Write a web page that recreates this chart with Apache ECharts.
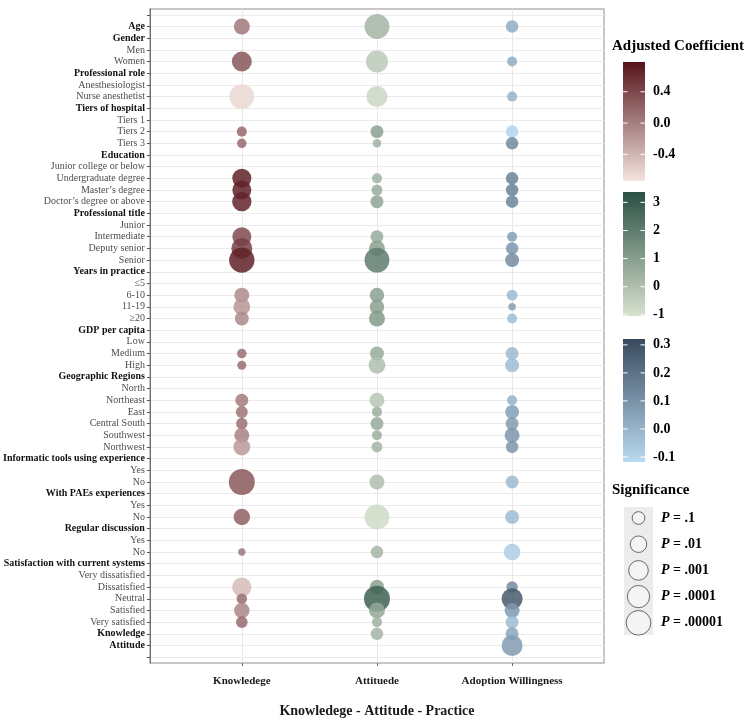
<!DOCTYPE html>
<html>
<head>
<meta charset="utf-8">
<script src="https://cdn.jsdelivr.net/npm/echarts@6/dist/echarts.min.js"></script>
<style>
html, body { margin: 0; padding: 0; background: #fff; }
#main { width: 755px; height: 723px; }
</style>
</head>
<body>
<div id="main"></div>
<script>
// rows of the y axis (blank first / last rows give the ggplot padding)
var yLabels = ['',
  'Age', 'Gender', 'Men', 'Women',
  'Professional role', 'Anesthesiologist', 'Nurse anesthetist',
  'Tiers of hospital', 'Tiers 1', 'Tiers 2', 'Tiers 3',
  'Education', 'Junior college or below', 'Undergraduate degree', 'Master’s degree', 'Doctor’s degree or above',
  'Professional title', 'Junior', 'Intermediate', 'Deputy senior', 'Senior',
  'Years in practice', '≤5', '6-10', '11-19', '≥20',
  'GDP per capita', 'Low', 'Medium', 'High',
  'Geographic Regions', 'North', 'Northeast', 'East', 'Central South', 'Southwest', 'Northwest',
  'Informatic tools using experience', 'Yes', 'No',
  'With PAEs experiences', 'Yes', 'No',
  'Regular discussion', 'Yes', 'No',
  'Satisfaction with current systems', 'Very dissatisfied', 'Dissatisfied', 'Neutral', 'Satisfied', 'Very satisfied',
  'Knowledge', 'Attitude', ''];

var boldLabels = ['Age', 'Gender', 'Professional role', 'Tiers of hospital', 'Education',
  'Professional title', 'Years in practice', 'GDP per capita', 'Geographic Regions',
  'Informatic tools using experience', 'With PAEs experiences', 'Regular discussion',
  'Satisfaction with current systems', 'Knowledge', 'Attitude'];

var columns = ['Knowledege', 'Attituede', 'Adoption Willingness'];

// adjusted coefficients, one per row (null = no bubble)
var knowledgeCoef = [null,
  0.05, null, null, 0.30,
  null, null, -0.65,
  null, null, 0.15, 0.15,
  null, null, 0.68, 0.68, 0.66,
  null, null, 0.38, 0.45, 0.68,
  null, null, -0.10, -0.18, -0.08,
  null, null, 0.12, 0.12,
  null, null, 0.02, 0.08, 0.10, -0.02, -0.20,
  null, null, 0.28,
  null, null, 0.22,
  null, null, 0.05,
  null, null, -0.45, 0.12, -0.05, 0.15,
  null, null, null];

var attitudeCoef = [null,
  0.3, null, null, -0.3,
  null, null, -0.7,
  null, null, 0.9, 0.4,
  null, null, 0.4, 0.6, 0.8,
  null, null, 0.6, 0.9, 2.0,
  null, null, 0.9, 0.9, 1.1,
  null, null, 0.6, 0.0,
  null, null, -0.2, 0.5, 0.6, 0.5, 0.3,
  null, null, 0.0,
  null, null, -0.8,
  null, null, 0.3,
  null, null, 0.9, 2.8, 0.7, 0.4,
  0.3, null, null];

var adoptionCoef = [null,
  0.02, null, null, 0.02,
  null, null, 0.00,
  null, null, -0.10, 0.13,
  null, null, 0.15, 0.15, 0.14,
  null, null, 0.06, 0.09, 0.12,
  null, null, -0.02, 0.06, -0.03,
  null, null, -0.02, -0.03,
  null, null, 0.00, 0.06, 0.07, 0.09, 0.09,
  null, null, -0.02,
  null, null, -0.03,
  null, null, -0.08,
  null, null, 0.12, 0.27, 0.08, -0.03,
  0.04, 0.07, null];

// significance as -log10(P), one per row
var knowledgeSig = [null,
  1.85, null, null, 3.1,
  null, null, 5.1,
  null, null, 0.46, 0.37,
  null, null, 2.8, 2.8, 2.9,
  null, null, 2.8, 3.5, 5.3,
  null, null, 1.57, 2.1, 1.3,
  null, null, 0.37, 0.29,
  null, null, 1.07, 0.85, 0.74, 1.57, 2.1,
  null, null, 5.6,
  null, null, 2.0,
  null, null, 0.05,
  null, null, 2.9, 0.55, 1.7, 0.75,
  null, null, null];

var attitudeSig = [null,
  5.1, null, null, 3.9,
  null, null, 3.5,
  null, null, 1.07, 0.21,
  null, null, 0.46, 0.64, 1.07,
  null, null, 1.07, 1.85, 5.1,
  null, null, 1.44, 1.44, 1.85,
  null, null, 1.31, 2.1,
  null, null, 1.57, 0.46, 1.07, 0.46, 0.64,
  null, null, 1.57,
  null, null, 5.1,
  null, null, 0.96,
  null, null, 1.44, 5.6, 1.85, 0.46,
  0.96, null, null];

var adoptionSig = [null,
  0.96, null, null, 0.46,
  null, null, 0.46,
  null, null, 0.96, 0.96,
  null, null, 0.96, 0.96, 0.96,
  null, null, 0.46, 0.96, 1.31,
  null, null, 0.64, 0.07, 0.46,
  null, null, 1.07, 1.31,
  null, null, 0.46, 1.31, 1.07, 1.57, 0.96,
  null, null, 1.07,
  null, null, 1.31,
  null, null, 2.0,
  null, null, 0.74, 3.5, 1.57, 1.07,
  1.07, 3.5, null];

// colour scales
var knowledgeRange = [-0.74, 0.78];
var attitudeRange = [-1.04, 3.37];
var adoptionRange = [-0.118, 0.321];
var knowledgeColors = ['#f3e4e0', '#55141a'];
var attitudeColors = ['#d8e2cf', '#2a4f43'];
var adoptionColors = ['#b9daf1', '#394a5e'];
var knowledgeTicks = [0.4, 0.0, -0.4];
var knowledgeTickText = ['0.4', '0.0', '-0.4'];
var attitudeTicks = [3, 2, 1, 0, -1];
var attitudeTickText = ['3', '2', '1', '0', '-1'];
var adoptionTicks = [0.3, 0.2, 0.1, 0.0, -0.1];
var adoptionTickText = ['0.3', '0.2', '0.1', '0.0', '-0.1'];

// significance legend
var sigBreaks = [1, 2, 3, 4, 5];
var sigBreakText = ['.1', '.01', '.001', '.0001', '.00001'];

var FONT = '"Liberation Serif", "Times New Roman", serif';

function bubbleSize(sig) {
  return Math.sqrt(49 + 112 * sig);
}

function buildData(col, coef, sig) {
  var out = [];
  for (var i = 0; i < yLabels.length; i++) {
    if (coef[i] === null) continue;
    out.push([col, i, coef[i], sig[i]]);
  }
  return out;
}

var coefs = [knowledgeCoef, attitudeCoef, adoptionCoef];
var sigs = [knowledgeSig, attitudeSig, adoptionSig];
var ranges = [knowledgeRange, attitudeRange, adoptionRange];
var palettes = [knowledgeColors, attitudeColors, adoptionColors];

var series = columns.map(function (name, c) {
  return {
    name: name,
    type: 'scatter',
    data: buildData(c, coefs[c], sigs[c]),
    symbolSize: function (v) { return bubbleSize(v[3]); },
    itemStyle: { opacity: 0.85 },
    emphasis: { disabled: true }
  };
});

var visualMaps = columns.map(function (name, c) {
  return {
    type: 'continuous',
    show: false,
    seriesIndex: c,
    dimension: 2,
    min: ranges[c][0],
    max: ranges[c][1],
    inRange: { color: palettes[c] }
  };
});

// colour bars on the right
var bars = [
  { top: 62, height: 119, range: knowledgeRange, colors: knowledgeColors, ticks: knowledgeTicks, text: knowledgeTickText },
  { top: 192, height: 124, range: attitudeRange, colors: attitudeColors, ticks: attitudeTicks, text: attitudeTickText },
  { top: 339, height: 123, range: adoptionRange, colors: adoptionColors, ticks: adoptionTicks, text: adoptionTickText }
];
var barX = 623, barW = 22;

var graphics = [];
graphics.push({
  type: 'text', left: 612, top: 39,
  style: { text: 'Adjusted Coefficient', font: 'bold 15px ' + FONT, fill: '#000' }
});
bars.forEach(function (b) {
  graphics.push({
    type: 'rect',
    shape: { x: barX, y: b.top, width: barW, height: b.height },
    style: {
      fill: {
        type: 'linear', x: 0, y: 0, x2: 0, y2: 1,
        colorStops: [{ offset: 0, color: b.colors[1] }, { offset: 1, color: b.colors[0] }]
      }
    }
  });
  b.ticks.forEach(function (t, k) {
    var y = b.top + (b.range[1] - t) / (b.range[1] - b.range[0]) * b.height;
    graphics.push({
      type: 'line', shape: { x1: barX, y1: y, x2: barX + 4.5, y2: y },
      style: { stroke: '#fff', lineWidth: 1 }
    });
    graphics.push({
      type: 'line', shape: { x1: barX + barW - 4.5, y1: y, x2: barX + barW, y2: y },
      style: { stroke: '#fff', lineWidth: 1 }
    });
    graphics.push({
      type: 'text', x: 653, y: y,
      style: { text: b.text[k], font: 'bold 14px ' + FONT, fill: '#000', verticalAlign: 'middle', textVerticalAlign: 'middle' }
    });
  });
});

graphics.push({
  type: 'text', left: 612, top: 483,
  style: { text: 'Significance', font: 'bold 15px ' + FONT, fill: '#000' }
});
graphics.push({
  type: 'rect', shape: { x: 624, y: 507, width: 29, height: 128 },
  style: { fill: '#ececec' }
});
sigBreaks.forEach(function (s, k) {
  var cy = 518 + k * 26.2;
  graphics.push({
    type: 'circle', shape: { cx: 638.5, cy: cy, r: bubbleSize(s) / 2 },
    style: { fill: '#f4f4f4', stroke: '#444', lineWidth: 0.8 }
  });
  graphics.push({
    type: 'text', x: 661, y: cy,
    style: {
      text: '{i|P} = ' + sigBreakText[k],
      font: 'bold 14px ' + FONT, fill: '#000',
      verticalAlign: 'middle', textVerticalAlign: 'middle',
      rich: { i: { fontStyle: 'italic', fontWeight: 'bold', fontSize: 14, fontFamily: FONT } }
    }
  });
});

var chart = echarts.init(document.getElementById('main'));
chart.setOption({
  animation: false,
  grid: {
    left: 148, right: 151, top: 9, bottom: 60,
    show: true, borderColor: '#b5b5b5', borderWidth: 1.5
  },
  xAxis: {
    type: 'value',
    min: -0.68, max: 2.68,
    name: 'Knowledege - Attitude - Practice',
    nameLocation: 'middle',
    nameGap: 41,
    nameTextStyle: { fontFamily: FONT, fontWeight: 'bold', fontSize: 14, color: '#1a1a1a' },
    axisLine: { show: false },
    axisTick: { show: true, length: 3, customValues: [0, 1, 2], lineStyle: { color: '#666' } },
    axisLabel: {
      customValues: [0, 1, 2],
      margin: 13,
      fontFamily: FONT, fontWeight: 'bold', fontSize: 11, color: '#1a1a1a',
      formatter: function (v) { return columns[Math.round(v)] || ''; }
    },
    splitLine: { show: true, lineStyle: { color: '#e8e8e8', width: 1 } }
  },
  yAxis: {
    type: 'category',
    data: yLabels,
    inverse: true,
    boundaryGap: true,
    axisLine: { show: true, onZero: false, lineStyle: { color: '#707070', width: 1 } },
    axisTick: { show: true, interval: 0, alignWithLabel: true, length: 3, lineStyle: { color: '#555' } },
    splitLine: { show: true, interval: 0, alignWithLabel: true, lineStyle: { color: '#ebebeb', width: 1 } },
    axisLabel: {
      interval: 0,
      margin: 5,
      formatter: function (v) {
        if (!v) return '';
        return boldLabels.indexOf(v) >= 0 ? '{b|' + v + '}' : '{n|' + v + '}';
      },
      rich: {
        b: { fontFamily: FONT, fontWeight: 'bold', fontSize: 10, color: '#111' },
        n: { fontFamily: FONT, fontSize: 10, color: '#4d4d4d' }
      }
    }
  },
  visualMap: visualMaps,
  series: series,
  graphic: graphics
});
</script>
</body>
</html>
